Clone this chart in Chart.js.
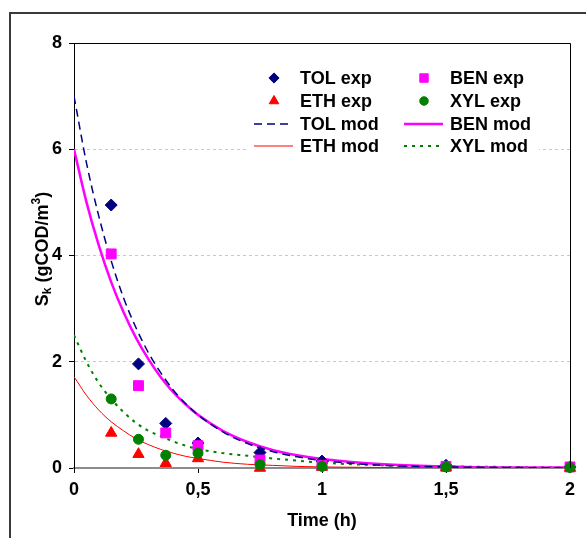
<!DOCTYPE html>
<html>
<head>
<meta charset="utf-8">
<script src="https://cdn.jsdelivr.net/npm/chart.js@4.4.0/dist/chart.umd.min.js"></script>
<style>
  html, body { margin: 0; padding: 0; background: #fff; }
  #wrap { position: relative; width: 586px; height: 538px; overflow: hidden; }
  #frame { position: absolute; left: 9px; top: 12px; width: 640px; height: 640px;
           border-left: 2px solid #3a3a3a; border-top: 2px solid #3a3a3a; }
  canvas { position: absolute; left: 0; top: 0; }
</style>
</head>
<body>
<div id="wrap">
  <div id="frame"></div>
  <canvas id="chart" width="586" height="538"></canvas>
</div>
<script>
// measured points (time in h)
const expTime = [0.15, 0.26, 0.37, 0.5, 0.75, 1, 1.5, 2];
const tolExp = [4.95, 1.96, 0.84, 0.47, 0.29, 0.13, 0.05, 0.02];
const benExp = [4.03, 1.55, 0.66, 0.42, 0.15, 0.05, 0.03, 0.02];
const ethExp = [0.66, 0.26, 0.09, 0.18, 0.0, 0.02, 0.01, 0.0];
const xylExp = [1.30, 0.54, 0.24, 0.28, 0.06, 0.03, 0.02, 0.01];

// model curves
const modelTime = [0, 0.05, 0.1, 0.15, 0.2, 0.25, 0.3, 0.35, 0.4, 0.45, 0.5, 0.6, 0.7, 0.8, 0.9, 1, 1.25, 1.5, 1.75, 2];
const tolMod = [7.0, 5.75, 4.74, 3.90, 3.20, 2.64, 2.17, 1.79, 1.47, 1.21, 1.0, 0.68, 0.46, 0.31, 0.21, 0.14, 0.05, 0.02, 0.01, 0.0];
const benMod = [6.0, 5.01, 4.19, 3.50, 2.93, 2.45, 2.05, 1.71, 1.43, 1.20, 1.0, 0.70, 0.49, 0.34, 0.24, 0.17, 0.07, 0.03, 0.01, 0.01];
const ethMod = [1.72, 1.37, 1.09, 0.87, 0.70, 0.55, 0.44, 0.35, 0.28, 0.22, 0.18, 0.11, 0.07, 0.05, 0.03, 0.02, 0.01, 0.0, 0.0, 0.0];
const xylMod = [2.5, 2.0, 1.6, 1.3, 1.05, 0.85, 0.7, 0.6, 0.5, 0.42, 0.36, 0.28, 0.23, 0.18, 0.14, 0.1, 0.05, 0.03, 0.02, 0.01];

const xTicks = [0, 0.5, 1, 1.5, 2];
const yTicks = [0, 2, 4, 6, 8];
const xTitle = 'Time (h)';

const FONT = '"Liberation Sans", Arial, sans-serif';
const FSIZE = 18;

const pts = (xs, ys) => xs.map((x, i) => ({ x: x, y: ys[i] }));

function expSet(label, ys, color, style, radius, order) {
  return {
    label: label,
    data: pts(expTime, ys),
    showLine: false,
    pointStyle: style,
    pointRadius: radius,
    pointHoverRadius: radius,
    backgroundColor: color,
    borderColor: color,
    pointBorderWidth: 1,
    clip: false,
    order: order
  };
}

function modSet(label, ys, color, width, dash) {
  return {
    label: label,
    data: pts(modelTime, ys),
    showLine: true,
    pointRadius: 0,
    borderColor: color,
    backgroundColor: color,
    borderWidth: width,
    borderDash: dash,
    cubicInterpolationMode: 'monotone',
    fill: false,
    order: 10
  };
}

const datasets = [
  expSet('TOL exp', tolExp, '#000080', 'rectRot', 6, 4),
  expSet('BEN exp', benExp, '#ff00ff', 'rect', 7, 3),
  expSet('ETH exp', ethExp, '#ff0000', 'triangle', 6.5, 2),
  expSet('XYL exp', xylExp, '#008000', 'circle', 5, 1),
  modSet('TOL mod', tolMod, '#000080', 1.5, [8, 5]),
  modSet('BEN mod', benMod, '#ff00ff', 2.5, []),
  modSet('ETH mod', ethMod, '#ff0000', 1, []),
  modSet('XYL mod', xylMod, '#008000', 2, [3, 5])
];

// legend slots: two columns, four rows
const legendCols = [274, 424];
const legendRows = [78, 101, 124, 146];

const decor = {
  id: 'decor',
  afterDraw(chart) {
    const ctx = chart.ctx;
    const a = chart.chartArea;
    ctx.save();

    // plot frame top / right
    ctx.strokeStyle = '#000';
    ctx.lineWidth = 1;
    ctx.beginPath();
    ctx.moveTo(a.left, a.top + 0.5);
    ctx.lineTo(a.right + 0.5, a.top + 0.5);
    ctx.lineTo(a.right + 0.5, a.bottom);
    ctx.stroke();

    // legend
    ctx.fillStyle = '#fff';
    ctx.fillRect(247, 60, 292, 96);
    ctx.font = 'bold ' + FSIZE + 'px ' + FONT;
    ctx.textBaseline = 'middle';
    chart.data.datasets.forEach((ds, i) => {
      const col = i % 2, row = Math.floor(i / 2);
      const cx = legendCols[col], cy = legendRows[row];
      if (ds.showLine) {
        ctx.save();
        ctx.strokeStyle = ds.borderColor;
        ctx.lineWidth = ds.borderWidth;
        ctx.setLineDash(ds.borderDash || []);
        ctx.beginPath();
        ctx.moveTo(cx - 20, cy);
        ctx.lineTo(cx + 19, cy);
        ctx.stroke();
        ctx.restore();
      } else {
        ctx.fillStyle = ds.backgroundColor;
        ctx.strokeStyle = ds.borderColor;
        Chart.helpers.drawPoint(ctx, {
          pointStyle: ds.pointStyle, radius: ds.pointRadius * 0.85,
          rotation: 0, borderWidth: 1
        }, cx, cy);
      }
      ctx.fillStyle = '#000';
      ctx.textAlign = 'left';
      ctx.fillText(ds.label, cx + 26, cy + 1);
    });

    // x title
    ctx.fillStyle = '#000';
    ctx.textAlign = 'center';
    ctx.textBaseline = 'middle';
    ctx.fillText(xTitle, (a.left + a.right) / 2, 521);

    // y title: S_k (gCOD/m^3), rotated
    const big = 'bold ' + FSIZE + 'px ' + FONT, small = 'bold 12px ' + FONT;
    const parts = [
      { t: 'S', f: big, dy: 0 },
      { t: 'k', f: small, dy: 3 },
      { t: ' (gCOD/m', f: big, dy: 0 },
      { t: '3', f: small, dy: -8 },
      { t: ')', f: big, dy: 0 }
    ];
    let total = 0;
    parts.forEach(p => { ctx.font = p.f; p.w = ctx.measureText(p.t).width; total += p.w; });
    ctx.translate(48, 249);
    ctx.rotate(-Math.PI / 2);
    ctx.textAlign = 'left';
    ctx.textBaseline = 'alphabetic';
    let x = -total / 2;
    parts.forEach(p => {
      ctx.font = p.f;
      ctx.fillText(p.t, x, p.dy);
      x += p.w;
    });
    ctx.restore();
  }
};

new Chart(document.getElementById('chart'), {
  type: 'scatter',
  data: { datasets: datasets },
  options: {
    responsive: false,
    animation: false,
    events: [],
    layout: { padding: { left: 30, right: 16, top: 43, bottom: 10 } },
    plugins: { legend: { display: false }, tooltip: { enabled: false } },
    scales: {
      x: {
        type: 'linear',
        min: 0, max: 2,
        afterBuildTicks: s => { s.ticks = xTicks.map(v => ({ value: v })); },
        afterFit: s => { s.height = 60; },
        ticks: {
          callback: v => String(v).replace('.', ','),
          color: '#000',
          padding: 6,
          maxRotation: 0,
          font: { family: FONT, size: FSIZE, weight: 'bold' }
        },
        grid: { drawOnChartArea: false, drawTicks: true, tickLength: 5, tickColor: '#000' },
        border: { display: true, color: '#8c8c8c', width: 2 }
      },
      y: {
        type: 'linear',
        min: 0, max: 8,
        afterBuildTicks: s => { s.ticks = yTicks.map(v => ({ value: v })); },
        afterFit: s => { s.width = 44; },
        ticks: {
          color: '#000',
          padding: 7,
          font: { family: FONT, size: FSIZE, weight: 'bold' }
        },
        grid: {
          color: c => (c.tick && (c.tick.value === 0 || c.tick.value === 8)) ? 'rgba(0,0,0,0)' : '#c8c8c8',
          lineWidth: 1,
          tickLength: 5,
          tickColor: '#000'
        },
        border: { display: true, color: '#000', width: 1, dash: [3, 3] }
      }
    }
  },
  plugins: [decor]
});
</script>
</body>
</html>
